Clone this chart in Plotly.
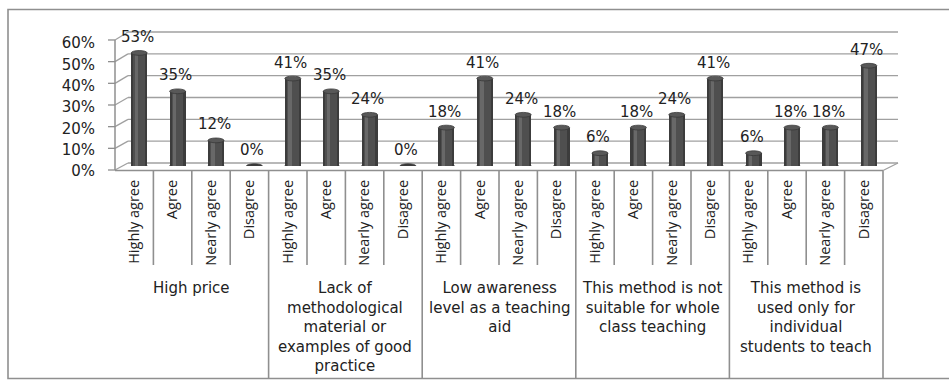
import plotly.graph_objects as go

# Survey answers (%) per obstacle, in the order of the response scale
responses = ["Highly agree", "Agree", "Nearly agree", "Disagree"]
groups = [
    "High price",
    "Lack of<br>methodological<br>material or<br>examples of good<br>practice",
    "Low awareness<br>level as a teaching<br>aid",
    "This method is not<br>suitable for whole<br>class teaching",
    "This method is<br>used only for<br>individual<br>students to teach",
]
high_price = [53, 35, 12, 0]
lack_of_material = [41, 35, 24, 0]
low_awareness = [18, 41, 24, 18]
not_whole_class = [6, 18, 24, 41]
individual_only = [6, 18, 18, 47]
y_ticks = [0, 0.1, 0.2, 0.3, 0.4, 0.5, 0.6]

series = [high_price, lack_of_material, low_awareness, not_whole_class, individual_only]
values = [v for grp in series for v in grp]
shares = [v / 100 for v in values]
positions = list(range(len(values)))
tick_text = responses * len(groups)

W, H = 949, 380
L, R, T, B = 120, 61, 38, 214          # plot area: x 120..888, y 38..166
PW, PH = W - L - R, H - T - B


def px(x):
    """pixel column -> paper x"""
    return (x - L) / PW


def py(y):
    """pixel row -> paper y"""
    return (H - B - y) / PH


FONT = "DejaVu Sans"
ROT_FONT = "Open Sans"
TXT = "#222222"
LINE = "#8f8f8f"
GRID = "#a0a0a0"

fig = go.Figure()

# cylinder bodies: dark shell, mid tone and a narrow highlight
fig.add_trace(go.Bar(x=positions, y=shares, width=0.42, marker=dict(color="#3c3c3c", line=dict(width=0)),
                     hoverinfo="skip", showlegend=False))
fig.add_trace(go.Bar(x=positions, y=shares, width=0.30, marker=dict(color="#4f4f4f", line=dict(width=0)),
                     hoverinfo="skip", showlegend=False))
fig.add_trace(go.Bar(x=positions, y=shares, width=0.09, offset=-0.12,
                     marker=dict(color="#686868", line=dict(width=0)),
                     hoverinfo="skip", showlegend=False))

shapes = []

# outer chart frame
shapes.append(dict(type="rect", xref="paper", yref="paper", x0=px(8), x1=px(960), y0=py(9.5), y1=py(378.5),
                   line=dict(color=LINE, width=1.6), layer="below"))

# back wall gridlines and the 3D side ticks of the value axis
for v in y_ticks:
    wall = 163 - 218.3 * v
    front = 170 - 216.7 * v
    shapes.append(dict(type="line", xref="paper", yref="paper", x0=px(128), x1=px(898), y0=py(wall), y1=py(wall),
                       line=dict(color=GRID, width=1.3), layer="below"))
    shapes.append(dict(type="line", xref="paper", yref="paper", x0=px(115), x1=px(128), y0=py(front), y1=py(wall),
                       line=dict(color=GRID, width=1.3), layer="below"))
    shapes.append(dict(type="line", xref="paper", yref="paper", x0=px(108), x1=px(115), y0=py(front), y1=py(front),
                       line=dict(color=LINE, width=1.3), layer="below"))

# front value axis line and floor edges
shapes.append(dict(type="line", xref="paper", yref="paper", x0=px(115), x1=px(115), y0=py(170), y1=py(40),
                   line=dict(color=LINE, width=1.5), layer="below"))
shapes.append(dict(type="line", xref="paper", yref="paper", x0=px(115), x1=px(883), y0=py(170.5), y1=py(170.5),
                   line=dict(color=LINE, width=1.5), layer="below"))
shapes.append(dict(type="line", xref="paper", yref="paper", x0=px(883), x1=px(898), y0=py(170.5), y1=py(163),
                   line=dict(color=GRID, width=1.3), layer="below"))

# category cell dividers: short between answers, long between obstacles
for k in range(len(values) + 1):
    bottom = 378.5 if k % len(responses) == 0 else 265
    shapes.append(dict(type="line", xref="x", xsizemode="pixel", xanchor=k - 0.5, x0=-5, x1=-5,
                       yref="paper", y0=py(170.5), y1=py(bottom),
                       line=dict(color=LINE, width=1.6), layer="below"))

# cylinder base and top ellipses
for i, s in zip(positions, shares):
    shapes.append(dict(type="circle", xref="x", yref="y", xsizemode="pixel", ysizemode="pixel",
                       xanchor=i, yanchor=0, x0=-8, x1=8, y0=-2.2, y1=2.2,
                       fillcolor="#3c3c3c", line=dict(color="#333333", width=0.8), layer="below"))
    if s > 0:
        shapes.append(dict(type="circle", xref="x", yref="y", xsizemode="pixel", ysizemode="pixel",
                           xanchor=i, yanchor=s, x0=-8, x1=8, y0=-2.4, y1=2.4,
                           fillcolor="#585858", line=dict(color="#383838", width=0.8), layer="above"))

annotations = []
# value labels above each cylinder
for i, v, s in zip(positions, values, shares):
    annotations.append(dict(x=i, y=s, xref="x", yref="y", text=f"{v}%", showarrow=False,
                            xshift=-2, yshift=16, yanchor="middle",
                            font=dict(family=FONT, size=15, color=TXT)))

# obstacle names under each block of four answers
for g, name in enumerate(groups):
    centre = g * len(responses) + (len(responses) - 1) / 2
    annotations.append(dict(x=centre, y=py(277), xref="x", yref="paper", text=name, showarrow=False,
                            xshift=-5, yanchor="top", align="center",
                            font=dict(family=FONT, size=15, color=TXT)))

fig.update_layout(
    width=W, height=H,
    margin=dict(l=L, r=R, t=T, b=B, pad=0),
    paper_bgcolor="white", plot_bgcolor="rgba(0,0,0,0)",
    barmode="overlay", bargap=0,
    shapes=shapes, annotations=annotations,
    font=dict(family=FONT, color=TXT),
    xaxis=dict(range=[-0.5, len(values) - 0.5], tickmode="array", tickvals=positions, ticktext=tick_text,
               tickangle=-90, ticklabelshift=-5, ticklabelstandoff=10,
               tickfont=dict(family=ROT_FONT, size=14.5, color=TXT),
               showgrid=False, zeroline=False, showline=False, ticks=""),
    yaxis=dict(range=[0, 0.6], tickmode="array", tickvals=y_ticks, tickformat=".0%",
               tickfont=dict(family=FONT, size=15, color=TXT),
               ticklabelstandoff=24, ticklabelshift=5,
               showgrid=False, zeroline=False, showline=False, ticks=""),
)

fig.write_html("out.html")
